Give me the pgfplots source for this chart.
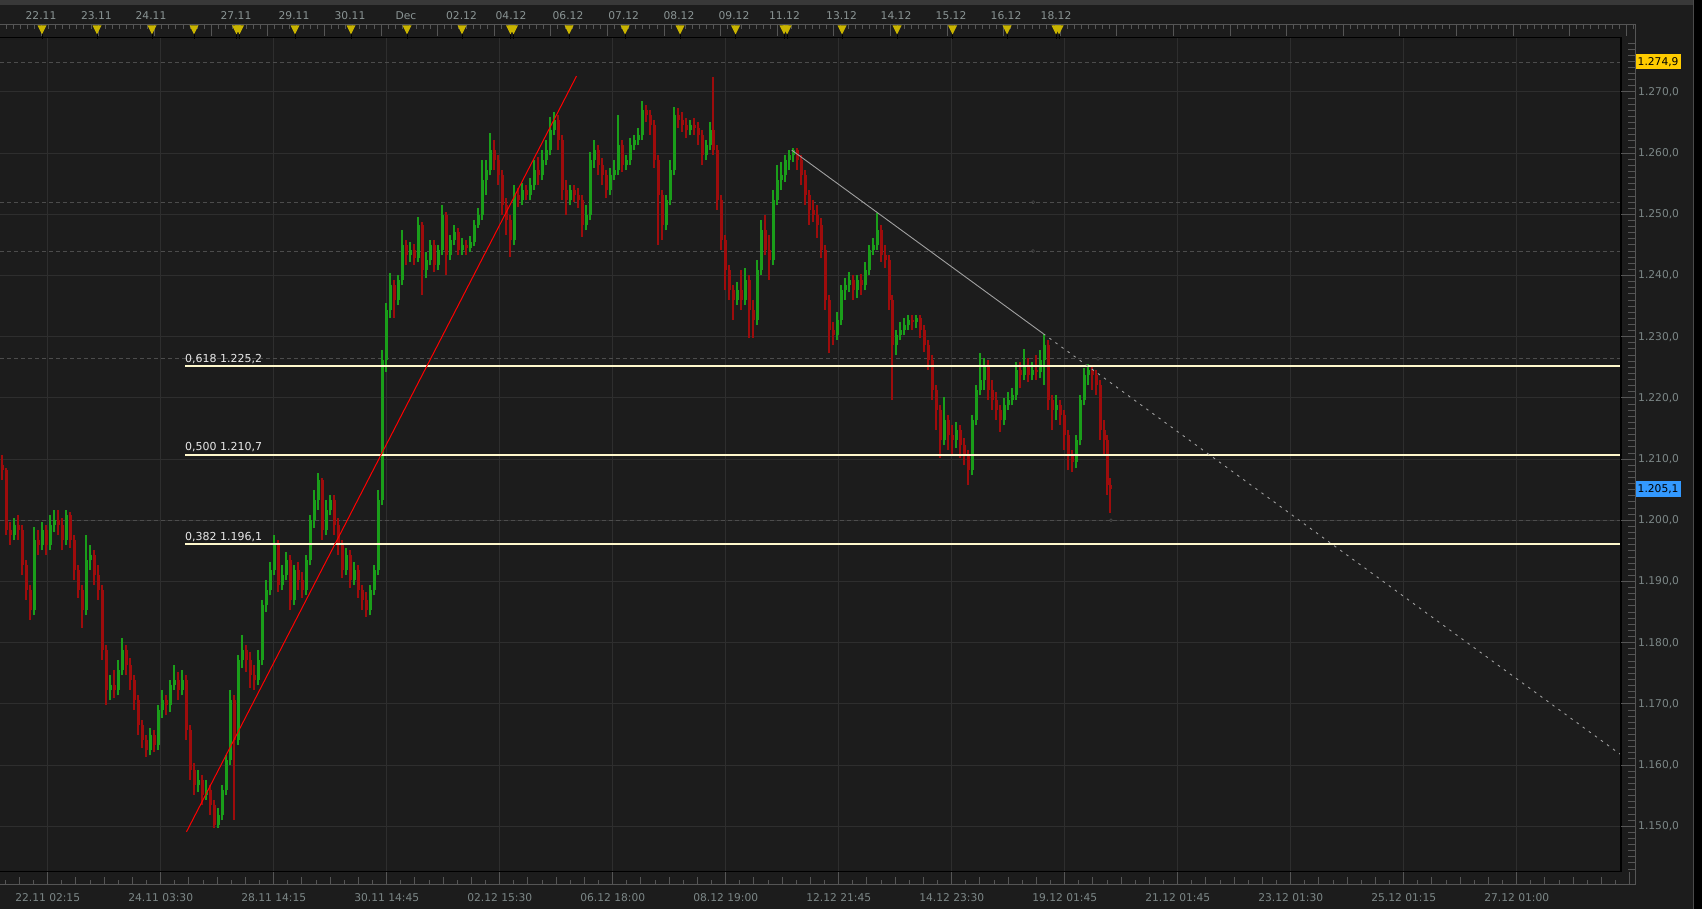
\documentclass[border=0pt]{standalone}
\usepackage{fontspec}
\setmainfont{DejaVu Sans}
\usepackage{pgfplots}
\usepackage{pgfplotstable}
\pgfplotsset{compat=1.18}

\definecolor{bgc}{HTML}{1C1C1C}
\definecolor{bandc}{HTML}{383838}
\definecolor{gridc}{HTML}{2E2E2E}
\definecolor{dashc}{HTML}{4C4C4C}
\definecolor{rulerc}{HTML}{555555}
\definecolor{labelc}{HTML}{7C8787}
\definecolor{toplc}{HTML}{8A9494}
\definecolor{cup}{HTML}{1A9E1A}
\definecolor{cdn}{HTML}{9E0C0C}
\definecolor{fibc}{HTML}{FFF8CC}
\definecolor{fibtxt}{HTML}{E8E8E8}
\definecolor{trendc}{HTML}{A0A0A0}
\definecolor{trig}{HTML}{C9B400}
\definecolor{tagy}{HTML}{FFCC00}
\definecolor{tagb}{HTML}{3399FF}
\definecolor{edgec}{HTML}{4A4A4A}

\newcommand{\lbl}{\fontsize{10.7}{12}\selectfont}
\tikzset{px/.style={x=1pt,y=-1pt,shift={(0pt,909pt)}}}

% x = horizontal position (px), o h l c = prices
\pgfplotstableread{
x o h l c
2 1.2090 1.2107 1.2066 1.2082
6 1.2082 1.2086 1.1976 1.1984
10 1.1984 1.1997 1.1960 1.1976
14 1.1976 1.2004 1.1968 1.1992
18 1.1992 1.2009 1.1968 1.1984
22 1.1984 1.1992 1.1911 1.1927
26 1.1927 1.1935 1.1870 1.1886
30 1.1886 1.1894 1.1837 1.1853
34 1.1853 1.1989 1.1845 1.1968
38 1.1968 1.1984 1.1943 1.1960
42 1.1960 1.1997 1.1951 1.1984
46 1.1984 1.1992 1.1943 1.1960
50 1.1960 1.2009 1.1951 1.1992
54 1.1992 1.2017 1.1981 1.2001
58 1.2001 1.2017 1.1976 1.1992
62 1.1992 1.2004 1.1951 1.1968
66 1.1968 1.2017 1.1960 1.2009
70 1.2009 1.2014 1.1955 1.1968
74 1.1968 1.1976 1.1902 1.1919
78 1.1919 1.1927 1.1873 1.1886
82 1.1886 1.1894 1.1824 1.1853
86 1.1853 1.1976 1.1845 1.1935
90 1.1935 1.1960 1.1919 1.1943
94 1.1943 1.1951 1.1894 1.1911
98 1.1911 1.1927 1.1870 1.1886
102 1.1886 1.1894 1.1772 1.1788
106 1.1788 1.1796 1.1698 1.1723
110 1.1723 1.1747 1.1706 1.1731
114 1.1731 1.1755 1.1710 1.1723
118 1.1723 1.1772 1.1714 1.1755
122 1.1755 1.1808 1.1747 1.1788
126 1.1788 1.1796 1.1747 1.1763
130 1.1763 1.1775 1.1723 1.1739
134 1.1739 1.1747 1.1690 1.1706
138 1.1706 1.1714 1.1649 1.1665
142 1.1665 1.1674 1.1628 1.1641
146 1.1641 1.1649 1.1613 1.1625
150 1.1625 1.1661 1.1616 1.1649
154 1.1649 1.1657 1.1621 1.1633
158 1.1633 1.1698 1.1625 1.1690
162 1.1690 1.1723 1.1677 1.1706
166 1.1706 1.1714 1.1682 1.1698
170 1.1698 1.1739 1.1687 1.1731
174 1.1731 1.1763 1.1723 1.1739
178 1.1739 1.1752 1.1706 1.1723
182 1.1723 1.1755 1.1714 1.1739
186 1.1739 1.1747 1.1641 1.1657
190 1.1657 1.1665 1.1576 1.1592
194 1.1592 1.1603 1.1551 1.1567
198 1.1567 1.1592 1.1556 1.1576
202 1.1576 1.1584 1.1535 1.1551
206 1.1551 1.1576 1.1543 1.1559
210 1.1559 1.1567 1.1518 1.1535
214 1.1535 1.1543 1.1497 1.1502
218 1.1502 1.1530 1.1497 1.1518
222 1.1518 1.1567 1.1510 1.1559
226 1.1559 1.1616 1.1551 1.1608
230 1.1608 1.1723 1.1600 1.1706
234 1.1706 1.1714 1.1510 1.1641
238 1.1641 1.1780 1.1633 1.1772
242 1.1772 1.1812 1.1759 1.1788
246 1.1788 1.1796 1.1752 1.1772
250 1.1772 1.1785 1.1726 1.1747
254 1.1747 1.1763 1.1723 1.1739
258 1.1739 1.1788 1.1731 1.1772
262 1.1772 1.1870 1.1763 1.1862
266 1.1862 1.1902 1.1850 1.1886
270 1.1886 1.1932 1.1878 1.1919
274 1.1919 1.1976 1.1911 1.1960
278 1.1960 1.1968 1.1883 1.1894
282 1.1894 1.1927 1.1886 1.1911
286 1.1911 1.1948 1.1902 1.1935
290 1.1935 1.1943 1.1853 1.1870
294 1.1870 1.1927 1.1862 1.1919
298 1.1919 1.1932 1.1886 1.1902
302 1.1902 1.1916 1.1873 1.1886
306 1.1886 1.1943 1.1878 1.1935
310 1.1935 1.2009 1.1927 1.2001
314 1.2001 1.2050 1.1988 1.2033
318 1.2033 1.2077 1.2017 1.2066
322 1.2066 1.2069 1.1968 1.1984
326 1.1984 1.2033 1.1976 1.2017
330 1.2017 1.2041 1.2009 1.2033
334 1.2033 1.2041 1.1976 1.1992
338 1.1992 1.2004 1.1943 1.1960
342 1.1960 1.1968 1.1906 1.1919
346 1.1919 1.1955 1.1911 1.1943
350 1.1943 1.1951 1.1890 1.1902
354 1.1902 1.1932 1.1894 1.1919
358 1.1919 1.1927 1.1873 1.1886
362 1.1886 1.1894 1.1853 1.1870
366 1.1870 1.1883 1.1842 1.1853
370 1.1853 1.1894 1.1845 1.1886
374 1.1886 1.1927 1.1878 1.1919
378 1.1919 1.2050 1.1911 1.2033
382 1.2033 1.2278 1.2025 1.2262
386 1.2262 1.2355 1.2242 1.2344
390 1.2344 1.2404 1.2331 1.2385
394 1.2385 1.2393 1.2331 1.2360
398 1.2360 1.2401 1.2352 1.2393
402 1.2393 1.2474 1.2385 1.2450
406 1.2450 1.2458 1.2417 1.2434
410 1.2434 1.2455 1.2422 1.2442
414 1.2442 1.2451 1.2417 1.2429
418 1.2429 1.2496 1.2422 1.2483
422 1.2483 1.2487 1.2368 1.2409
426 1.2409 1.2438 1.2396 1.2425
430 1.2425 1.2458 1.2417 1.2450
434 1.2450 1.2458 1.2406 1.2417
438 1.2417 1.2450 1.2409 1.2442
442 1.2442 1.2515 1.2434 1.2499
446 1.2499 1.2504 1.2401 1.2434
450 1.2434 1.2466 1.2425 1.2458
454 1.2458 1.2483 1.2450 1.2471
458 1.2471 1.2478 1.2434 1.2442
462 1.2442 1.2461 1.2434 1.2450
466 1.2450 1.2458 1.2434 1.2445
470 1.2445 1.2465 1.2438 1.2455
474 1.2455 1.2491 1.2448 1.2483
478 1.2483 1.2510 1.2478 1.2499
482 1.2499 1.2589 1.2491 1.2556
486 1.2556 1.2589 1.2532 1.2573
490 1.2573 1.2633 1.2564 1.2605
494 1.2605 1.2622 1.2573 1.2589
498 1.2589 1.2597 1.2548 1.2564
502 1.2564 1.2573 1.2499 1.2515
506 1.2515 1.2527 1.2466 1.2491
510 1.2491 1.2499 1.2430 1.2458
514 1.2458 1.2548 1.2450 1.2532
518 1.2532 1.2543 1.2512 1.2523
522 1.2523 1.2551 1.2515 1.2540
526 1.2540 1.2548 1.2523 1.2532
530 1.2532 1.2559 1.2523 1.2548
534 1.2548 1.2589 1.2540 1.2573
538 1.2573 1.2594 1.2548 1.2564
542 1.2564 1.2605 1.2556 1.2589
546 1.2589 1.2622 1.2581 1.2605
550 1.2605 1.2659 1.2597 1.2638
554 1.2638 1.2667 1.2630 1.2654
558 1.2654 1.2662 1.2605 1.2622
562 1.2622 1.2630 1.2523 1.2540
566 1.2540 1.2556 1.2499 1.2523
570 1.2523 1.2548 1.2515 1.2540
574 1.2540 1.2548 1.2520 1.2532
578 1.2532 1.2543 1.2510 1.2523
582 1.2523 1.2532 1.2463 1.2483
586 1.2483 1.2515 1.2474 1.2499
590 1.2499 1.2602 1.2491 1.2589
594 1.2589 1.2622 1.2576 1.2605
598 1.2605 1.2613 1.2564 1.2581
602 1.2581 1.2592 1.2548 1.2564
606 1.2564 1.2573 1.2527 1.2540
610 1.2540 1.2576 1.2532 1.2564
614 1.2564 1.2589 1.2556 1.2573
618 1.2573 1.2662 1.2564 1.2613
622 1.2613 1.2622 1.2569 1.2581
626 1.2581 1.2597 1.2573 1.2589
630 1.2589 1.2625 1.2581 1.2613
634 1.2613 1.2630 1.2605 1.2622
638 1.2622 1.2641 1.2613 1.2630
642 1.2630 1.2685 1.2622 1.2671
646 1.2671 1.2679 1.2651 1.2662
650 1.2662 1.2671 1.2630 1.2646
654 1.2646 1.2654 1.2576 1.2589
658 1.2589 1.2597 1.2450 1.2532
662 1.2532 1.2540 1.2458 1.2483
666 1.2483 1.2532 1.2474 1.2523
670 1.2523 1.2589 1.2515 1.2573
674 1.2573 1.2675 1.2564 1.2662
678 1.2662 1.2674 1.2641 1.2654
682 1.2654 1.2667 1.2635 1.2646
686 1.2646 1.2657 1.2625 1.2638
690 1.2638 1.2654 1.2630 1.2646
694 1.2646 1.2657 1.2630 1.2641
698 1.2641 1.2651 1.2613 1.2630
702 1.2630 1.2638 1.2581 1.2597
706 1.2597 1.2622 1.2589 1.2613
710 1.2613 1.2651 1.2605 1.2638
713 1.2638 1.2725 1.2597 1.2605
717 1.2605 1.2613 1.2507 1.2524
721 1.2524 1.2532 1.2442 1.2458
725 1.2458 1.2466 1.2376 1.2409
729 1.2409 1.2417 1.2360 1.2376
733 1.2376 1.2385 1.2327 1.2360
737 1.2360 1.2389 1.2352 1.2376
741 1.2376 1.2409 1.2344 1.2360
745 1.2360 1.2412 1.2352 1.2393
749 1.2393 1.2401 1.2298 1.2344
753 1.2344 1.2360 1.2298 1.2327
757 1.2327 1.2425 1.2319 1.2409
761 1.2409 1.2491 1.2401 1.2474
765 1.2474 1.2499 1.2434 1.2442
769 1.2442 1.2466 1.2393 1.2425
773 1.2425 1.2540 1.2417 1.2524
777 1.2524 1.2581 1.2515 1.2556
781 1.2556 1.2586 1.2540 1.2564
785 1.2564 1.2597 1.2553 1.2589
789 1.2589 1.2605 1.2573 1.2597
793 1.2597 1.2608 1.2586 1.2605
797 1.2605 1.2608 1.2573 1.2589
801 1.2589 1.2597 1.2548 1.2564
805 1.2564 1.2573 1.2515 1.2532
809 1.2532 1.2540 1.2483 1.2507
813 1.2507 1.2523 1.2487 1.2499
817 1.2499 1.2515 1.2461 1.2483
821 1.2483 1.2494 1.2429 1.2442
825 1.2442 1.2450 1.2344 1.2360
829 1.2360 1.2368 1.2273 1.2311
833 1.2311 1.2324 1.2287 1.2303
837 1.2303 1.2340 1.2295 1.2327
841 1.2327 1.2385 1.2319 1.2376
845 1.2376 1.2396 1.2360 1.2385
849 1.2385 1.2406 1.2373 1.2393
853 1.2393 1.2401 1.2360 1.2376
857 1.2376 1.2401 1.2363 1.2393
861 1.2393 1.2403 1.2368 1.2385
865 1.2385 1.2422 1.2376 1.2409
869 1.2409 1.2450 1.2401 1.2442
873 1.2442 1.2461 1.2434 1.2450
877 1.2450 1.2502 1.2442 1.2474
881 1.2474 1.2483 1.2422 1.2434
885 1.2434 1.2450 1.2412 1.2425
889 1.2425 1.2434 1.2344 1.2360
892 1.2360 1.2368 1.2197 1.2287
896 1.2287 1.2311 1.2270 1.2303
900 1.2303 1.2324 1.2295 1.2311
904 1.2311 1.2331 1.2303 1.2319
908 1.2319 1.2336 1.2311 1.2327
912 1.2327 1.2336 1.2311 1.2324
916 1.2324 1.2336 1.2314 1.2331
920 1.2331 1.2336 1.2298 1.2311
924 1.2311 1.2319 1.2275 1.2287
928 1.2287 1.2295 1.2246 1.2262
932 1.2262 1.2270 1.2197 1.2213
936 1.2213 1.2221 1.2148 1.2180
940 1.2180 1.2188 1.2102 1.2131
944 1.2131 1.2202 1.2123 1.2164
948 1.2164 1.2172 1.2115 1.2139
952 1.2139 1.2156 1.2107 1.2131
956 1.2131 1.2161 1.2118 1.2148
960 1.2148 1.2156 1.2102 1.2123
964 1.2123 1.2135 1.2090 1.2107
968 1.2107 1.2115 1.2058 1.2082
972 1.2082 1.2172 1.2074 1.2164
976 1.2164 1.2221 1.2156 1.2213
980 1.2213 1.2273 1.2205 1.2229
984 1.2229 1.2265 1.2213 1.2254
988 1.2254 1.2262 1.2197 1.2213
992 1.2213 1.2229 1.2180 1.2197
996 1.2197 1.2210 1.2164 1.2180
1000 1.2180 1.2188 1.2144 1.2164
1004 1.2164 1.2200 1.2156 1.2188
1008 1.2188 1.2210 1.2180 1.2197
1012 1.2197 1.2216 1.2188 1.2205
1016 1.2205 1.2259 1.2197 1.2246
1020 1.2246 1.2259 1.2216 1.2237
1024 1.2237 1.2280 1.2229 1.2254
1028 1.2254 1.2265 1.2226 1.2237
1032 1.2237 1.2259 1.2229 1.2246
1036 1.2246 1.2270 1.2229 1.2242
1040 1.2242 1.2278 1.2232 1.2262
1044 1.2262 1.2304 1.2221 1.2287
1048 1.2287 1.2295 1.2180 1.2197
1052 1.2197 1.2205 1.2148 1.2180
1056 1.2180 1.2205 1.2164 1.2188
1060 1.2188 1.2197 1.2156 1.2172
1064 1.2172 1.2180 1.2115 1.2139
1068 1.2139 1.2148 1.2082 1.2107
1072 1.2107 1.2115 1.2079 1.2095
1076 1.2095 1.2139 1.2085 1.2131
1080 1.2131 1.2205 1.2123 1.2197
1084 1.2197 1.2249 1.2188 1.2237
1088 1.2237 1.2255 1.2221 1.2246
1092 1.2246 1.2254 1.2213 1.2237
1096 1.2237 1.2246 1.2205 1.2221
1100 1.2221 1.2229 1.2131 1.2148
1104 1.2148 1.2164 1.2107 1.2131
1107 1.2131 1.2139 1.2041 1.2058
1110 1.2058 1.2069 1.2012 1.2051
}\bars

\begin{document}
\begin{tikzpicture}
\path[use as bounding box] (0,0) rectangle (1702pt,909pt);
\fill[bgc] (0,0) rectangle (1702pt,909pt);
\begin{scope}[px]
  \fill[bandc] (0,0) rectangle (1693,5);
\end{scope}

\begin{axis}[
  at={(0pt,37.5pt)}, anchor=south west,
  scale only axis, width=1621pt, height=834pt,
  xmin=0, xmax=1621, ymin=1.142613, ymax=1.278907,
  axis background/.style={fill=bgc},
  axis line style={draw=none},
  major tick length=0pt,
  grid=major,
  major grid style={draw=gridc, line width=1pt},
  xtick={47.7,160.7,273.7,386.7,499.7,612.7,725.7,838.7,951.7,1064.7,1177.7,1290.7,1403.7,1516.7},
  xticklabels={22.11 02:15,24.11 03:30,28.11 14:15,30.11 14:45,02.12 15:30,06.12 18:00,08.12 19:00,12.12 21:45,14.12 23:30,19.12 01:45,21.12 01:45,23.12 01:30,25.12 01:15,27.12 01:00},
  ytick={1.15,1.16,1.17,1.18,1.19,1.20,1.21,1.22,1.23,1.24,1.25,1.26,1.27},
  yticklabels={{1.150,0},{1.160,0},{1.170,0},{1.180,0},{1.190,0},{1.200,0},{1.210,0},{1.220,0},{1.230,0},{1.240,0},{1.250,0},{1.260,0},{1.270,0}},
  yticklabel pos=right,
  xticklabel style={anchor=center, yshift=-26.5pt, inner sep=0pt, font=\lbl, text=labelc},
  yticklabel style={anchor=west, xshift=17pt, inner sep=0pt, font=\lbl, text=labelc},
]
% horizontal dashed levels
\addplot[dashc, line width=0.8pt, dash pattern=on 4pt off 3pt, forget plot] coordinates {(0,1.2749) (1621,1.2749)};
\addplot[dashc, line width=0.8pt, dash pattern=on 4pt off 3pt, forget plot] coordinates {(0,1.2520) (1621,1.2520)};
\addplot[dashc, line width=0.8pt, dash pattern=on 4pt off 3pt, forget plot] coordinates {(0,1.2440) (1621,1.2440)};
\addplot[dashc, line width=0.8pt, dash pattern=on 4pt off 3pt, forget plot] coordinates {(0,1.2264) (1621,1.2264)};
\addplot[dashc, line width=0.8pt, dash pattern=on 4pt off 3pt, forget plot] coordinates {(0,1.2000) (1621,1.2000)};
\addplot[only marks, mark=o, mark size=1.6pt, draw=dashc, forget plot] coordinates {(1033,1.2520) (1033,1.2440) (1098,1.2264) (1111,1.2000)};

% candles: wicks and bodies, up (green) and down (red)
\addplot[draw=none, mark=none, forget plot,
  restrict expr to domain={\thisrow{c}-\thisrow{o}}{0:1},
  error bars/.cd, y dir=plus, y explicit, error mark=none,
  error bar style={draw=cup, line width=1.3pt}]
  table[x=x, y=l, y error expr=\thisrow{h}-\thisrow{l}] {\bars};
\addplot[draw=none, mark=none, forget plot,
  restrict expr to domain={\thisrow{c}-\thisrow{o}}{-1:0},
  error bars/.cd, y dir=plus, y explicit, error mark=none,
  error bar style={draw=cdn, line width=1.3pt}]
  table[x=x, y=l, y error expr=\thisrow{h}-\thisrow{l}] {\bars};
\addplot[draw=none, mark=none, forget plot,
  restrict expr to domain={\thisrow{c}-\thisrow{o}}{0:1},
  error bars/.cd, y dir=plus, y explicit, error mark=none,
  error bar style={draw=cup, line width=3pt}]
  table[x=x, y=o, y error expr=\thisrow{c}-\thisrow{o}] {\bars};
\addplot[draw=none, mark=none, forget plot,
  restrict expr to domain={\thisrow{c}-\thisrow{o}}{-1:0},
  error bars/.cd, y dir=plus, y explicit, error mark=none,
  error bar style={draw=cdn, line width=3pt}]
  table[x=x, y=c, y error expr=\thisrow{o}-\thisrow{c}] {\bars};

% fibonacci levels
\addplot[fibc, line width=1.4pt, forget plot] coordinates {(185,1.2252) (1620,1.2252)};
\addplot[fibc, line width=1.4pt, forget plot] coordinates {(185,1.2107) (1620,1.2107)};
\addplot[fibc, line width=1.4pt, forget plot] coordinates {(185,1.1961) (1620,1.1961)};
\node[anchor=base west, inner sep=0pt, yshift=4pt, font=\fontsize{11}{12}\selectfont, text=fibtxt] at (axis cs:185,1.2252) {0,618 1.225,2};
\node[anchor=base west, inner sep=0pt, yshift=4pt, font=\fontsize{11}{12}\selectfont, text=fibtxt] at (axis cs:185,1.2107) {0,500 1.210,7};
\node[anchor=base west, inner sep=0pt, yshift=4pt, font=\fontsize{11}{12}\selectfont, text=fibtxt] at (axis cs:185,1.1961) {0,382 1.196,1};

% trend lines
\addplot[red, line width=1pt, forget plot] coordinates {(186.5,1.1491) (576.5,1.2726)};
\addplot[trendc, line width=0.9pt, forget plot] coordinates {(791.7,1.2605) (1043.3,1.2305)};
\addplot[trendc, line width=0.9pt, dash pattern=on 2.5pt off 5pt, forget plot] coordinates {(1043.3,1.2305) (1620,1.1618)};
\end{axis}

\begin{scope}[px]
  % plot border
  \draw[black, line width=1.6pt] (0,37.5) -- (1621,37.5) -- (1621,871.5) -- (0,871.5);
  % ruler frame
  \draw[rulerc, line width=1pt] (0,24.5) -- (1635.5,24.5) -- (1635.5,884.5) -- (0,884.5);
  % top ruler ticks
  \foreach \k in {-5,...,225} {
    \pgfmathsetmacro\tx{41.5+7.075*\k}
    \pgfmathtruncatemacro\m{mod(\k+80,8)}
    \ifnum\m=0 \draw[rulerc, line width=1pt] (\tx,24.5) -- (\tx,36);
    \else \draw[rulerc, line width=1pt] (\tx,24.5) -- (\tx,29.5); \fi
  }
  % bottom ruler ticks
  \foreach \k in {-3,...,112} {
    \pgfmathsetmacro\bx{47.7+14.125*\k}
    \pgfmathtruncatemacro\m{mod(\k+80,8)}
    \pgfmathtruncatemacro\n{mod(\k+80,2)}
    \ifnum\m=0 \draw[rulerc, line width=1pt] (\bx,884.5) -- (\bx,872);
    \else\ifnum\n=0 \draw[rulerc, line width=1pt] (\bx,884.5) -- (\bx,877.5);
    \else \draw[rulerc, line width=1pt] (\bx,884.5) -- (\bx,880); \fi\fi
  }
  % right ruler ticks
  \foreach \k in {1143,...,1278} {
    \pgfmathsetmacro\ry{92+(1270-\k)*6.119}
    \pgfmathtruncatemacro\m{mod(\k,10)}
    \ifnum\m=0 \draw[rulerc, line width=1pt] (1621,\ry) -- (1635.5,\ry);
    \else \draw[rulerc, line width=1pt] (1628,\ry) -- (1635.5,\ry); \fi
  }
  % event markers
  \foreach \tx in {42,97,152,194,236.5,239.5,295,351,407,462,510.5,513.5,569,625,680,735.5,784,787,842,897,952.5,1007,1056,1059} {
    \draw[black, line width=1pt] (\tx,33) -- (\tx,39.5);
    \fill[trig] (\tx-4.5,25.5) -- (\tx+4.5,25.5) -- (\tx,34.5) -- cycle;
  }
  \foreach \tx/\tl in {41/22.11,96.4/23.11,151/24.11,236/27.11,294/29.11,350/30.11,406/Dec,461.5/02.12,511/04.12,568/06.12,623.7/07.12,679/08.12,734/09.12,784.5/11.12,841.5/13.12,896/14.12,951/15.12,1006/16.12,1056/18.12} {
    \node[font=\lbl, text=toplc, inner sep=0pt] at (\tx,15.5) {\tl};
  }
  % price tags
  \fill[tagy] (1636,54) rectangle (1681,69.5);
  \node[font=\lbl, text=black, anchor=west, inner sep=0pt] at (1637.5,62) {1.274,9};
  \fill[tagb] (1636,481) rectangle (1681,497);
  \node[font=\lbl, text=black, anchor=west, inner sep=0pt] at (1637.5,489) {1.205,1};
  % right edge
  \fill[black] (1694,0) rectangle (1702,909);
  \draw[edgec, line width=1pt] (1693.5,0) -- (1693.5,909);
\end{scope}
\end{tikzpicture}
\end{document}
